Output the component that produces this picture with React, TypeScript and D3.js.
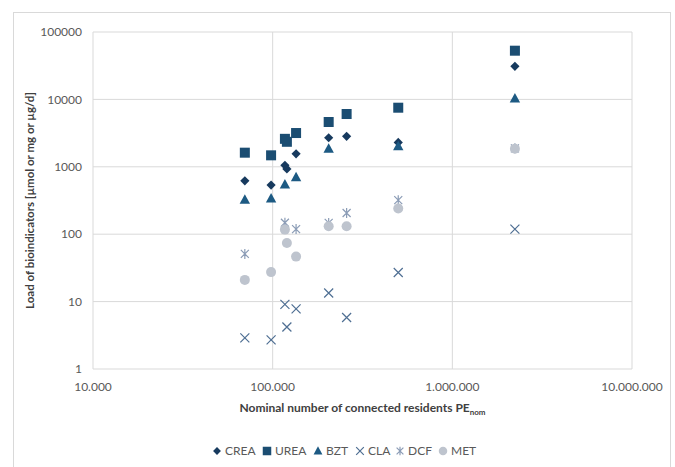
import React from "react";
import * as d3 from "d3";

// Nominal population equivalents of the treatment plants
const plantsPE = [70000, 98000, 117000, 120000, 135000, 205000, 258000, 500000, 2230000];

// Daily loads per plant (null = not measured)
const crea = [620, 535, 1050, 930, 1560, 2700, 2830, 2300, 31000];
const urea = [1620, 1480, 2600, 2350, 3170, 4620, 6070, 7530, 52800];
const bzt = [325, 340, 545, null, 700, 1860, null, 2010, 10350];
const cla = [2.9, 2.7, 9.1, 4.2, 7.8, 13.4, 5.8, 27, 119];
const dcf = [51, null, 148, null, 119, 147, 206, 320, 1880];
const met = [21, 27.4, 117, 74, 46.5, 131, 131, 240, 1850];

const seriesNames = ["CREA", "UREA", "BZT", "CLA", "DCF", "MET"];
const xTicks = [1e4, 1e5, 1e6, 1e7];
const yTicks = [1, 10, 100, 1000, 10000, 100000];

const FONT = "Lato, 'Open Sans', sans-serif";
const GRID = "#d9d9d9";

type Shape = "diamond" | "square" | "triangle" | "x" | "star" | "circle";

const styles: { shape: Shape; color: string }[] = [
  { shape: "diamond", color: "#173a5e" },
  { shape: "square", color: "#1b4d72" },
  { shape: "triangle", color: "#1d5a83" },
  { shape: "x", color: "#4f6f93" },
  { shape: "star", color: "#8b9cb6" },
  { shape: "circle", color: "#bec4ce" },
];

function Marker({ shape, color, x, y, k = 1 }: { shape: Shape; color: string; x: number; y: number; k?: number }) {
  const s = 4.6 * k;
  switch (shape) {
    case "diamond":
      return <path d={`M${x},${y - s}L${x + s},${y}L${x},${y + s}L${x - s},${y}Z`} fill={color} />;
    case "square":
      return <rect x={x - 5 * k} y={y - 5 * k} width={10 * k} height={10 * k} fill={color} />;
    case "triangle":
      return <path d={`M${x},${y - 5.5 * k}L${x + 5.2 * k},${y + 4 * k}L${x - 5.2 * k},${y + 4 * k}Z`} fill={color} />;
    case "x": {
      const a = 4.5 * k;
      return (
        <path
          d={`M${x - a},${y - a}L${x + a},${y + a}M${x - a},${y + a}L${x + a},${y - a}`}
          stroke={color}
          strokeWidth={1.2}
          fill="none"
        />
      );
    }
    case "star": {
      const a = 4 * k;
      return (
        <path
          d={`M${x - a},${y - a}L${x + a},${y + a}M${x - a},${y + a}L${x + a},${y - a}M${x},${y - 5 * k}L${x},${y + 5 * k}`}
          stroke={color}
          strokeWidth={1.2}
          fill="none"
        />
      );
    }
    default:
      return <circle cx={x} cy={y} r={5 * k} fill={color} />;
  }
}

export default function App() {
  const width = 675;
  const height = 467;
  const left = 93;
  const right = 632;
  const top = 32;
  const bottom = 369;

  const x = d3.scaleLog().domain([1e4, 1e7]).range([left, right]);
  const y = d3.scaleLog().domain([1, 1e5]).range([bottom, top]);

  const fmtX = (v: number) => d3.format(",")(v).replace(/,/g, ".");

  const data = [crea, urea, bzt, cla, dcf, met];

  // Legend marker positions
  const legendY = 451;
  const legendX = [217, 267, 318, 360, 400, 443];

  return (
    <svg
      width={width}
      height={height}
      style={{ position: "absolute", left: 0, top: 0, background: "#fff" }}
      fontFamily={FONT}
    >
      <rect x={13.5} y={12.5} width={657} height={470} fill="#fff" stroke={GRID} />

      {/* grid */}
      {yTicks.map((t) => (
        <line key={"gy" + t} x1={left} x2={right} y1={y(t)} y2={y(t)} stroke={GRID} strokeWidth={1} />
      ))}
      {xTicks.map((t) => (
        <line key={"gx" + t} x1={x(t)} x2={x(t)} y1={top} y2={bottom} stroke={GRID} strokeWidth={1} />
      ))}

      {/* tick labels */}
      {yTicks.map((t) => (
        <text key={"ly" + t} x={82} y={y(t)} dy="0.35em" textAnchor="end" fontSize={12} fill="#595959">
          {t}
        </text>
      ))}
      {xTicks.map((t) => (
        <text key={"lx" + t} x={x(t)} y={387} dy="0.35em" textAnchor="middle" fontSize={12} fill="#595959">
          {fmtX(t)}
        </text>
      ))}

      {/* axis titles */}
      <text x={(left + right) / 2} y={408} dy="0.35em" textAnchor="middle" fontSize={12} fontWeight="bold" fill="#404040">
        Nominal number of connected residents PE
        <tspan fontSize={8} dy="3">nom</tspan>
      </text>
      <text
        transform={`translate(30,${(top + bottom) / 2}) rotate(-90)`}
        textAnchor="middle"
        dy="0.35em"
        fontSize={11.5}
        fontWeight="bold"
        fill="#404040"
      >
        Load of bioindicators [µmol or mg or µg/d]
      </text>

      {/* points */}
      {data.map((vals, si) => (
        <g key={seriesNames[si]}>
          {vals.map((v, i) =>
            v == null ? null : (
              <Marker key={i} shape={styles[si].shape} color={styles[si].color} x={x(plantsPE[i])} y={y(v)} />
            )
          )}
        </g>
      ))}

      {/* legend */}
      {seriesNames.map((name, i) => (
        <g key={"lg" + name}>
          <Marker shape={styles[i].shape} color={styles[i].color} x={legendX[i]} y={legendY} k={0.85} />
          <text x={legendX[i] + 8} y={legendY} dy="0.35em" fontSize={12} fill="#595959">
            {name}
          </text>
        </g>
      ))}
    </svg>
  );
}
